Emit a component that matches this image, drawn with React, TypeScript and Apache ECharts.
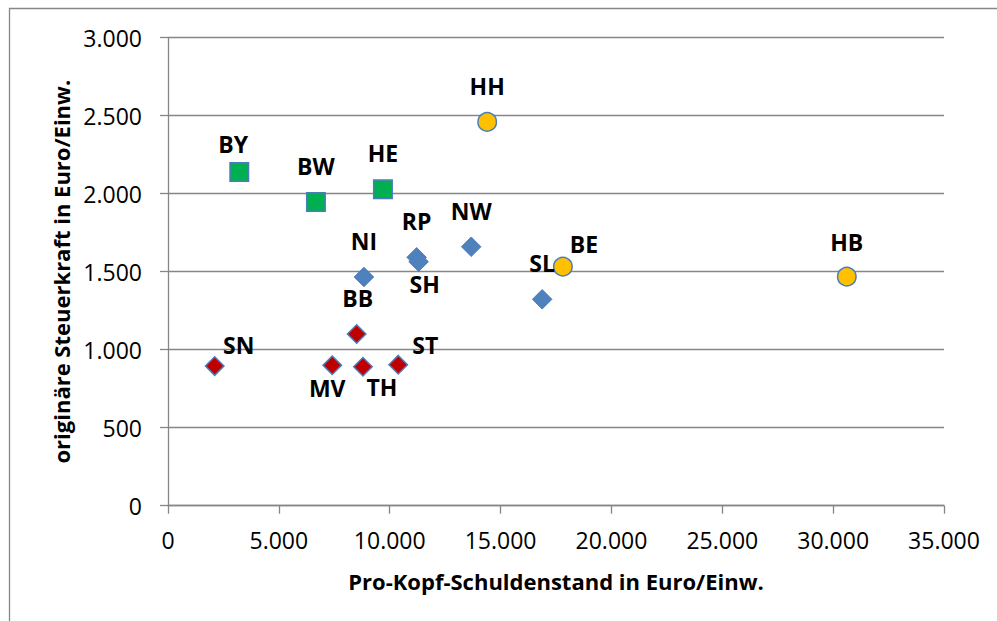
import React, { useEffect, useRef } from "react";
import * as echarts from "echarts";

// Data (Pro-Kopf-Schuldenstand [x], originäre Steuerkraft [y], Euro/Einw.)
const greenNames = ["BY", "BW", "HE"];
const greenX = [3215, 6673, 9694];
const greenY = [2139, 1947, 2028];

const yellowNames = ["HH", "BE", "HB"];
const yellowX = [14397, 17811, 30616];
const yellowY = [2460, 1532, 1468];

const blueNames = ["NI", "RP", "SH", "NW", "SL"];
const blueX = [8838, 11214, 11304, 13676, 16877];
const blueY = [1466, 1592, 1564, 1660, 1323];

const redNames = ["BB", "SN", "MV", "TH", "ST"];
const redX = [8509, 2106, 7408, 8793, 10384];
const redY = [1101, 895, 900, 891, 904];

const xTicks = { min: 0, max: 35000, interval: 5000 };
const yTicks = { min: 0, max: 3000, interval: 500 };

const xTitle = "Pro-Kopf-Schuldenstand in Euro/Einw.";
const yTitle = "originäre Steuerkraft in Euro/Einw.";

// label placement (style, not data)
const labelOffsets: Record<string, [number, number]> = {
  BY: [-6, -28],
  BW: [0, -36],
  HE: [0, -36],
  HH: [0, -36],
  BE: [21, -23],
  HB: [0, -35],
  NI: [0, -36],
  RP: [0, -36],
  SH: [6, 22],
  NW: [0, -36],
  SL: [0, -36],
  BB: [1, -36],
  SN: [24, -21],
  MV: [-5, 23],
  TH: [19, 20],
  ST: [27, -20],
};

const FONT = "'Open Sans', 'Liberation Sans', sans-serif";
const GRAY = "#868686";
const BORDER = "#4a7ebb";

const fmt = (v: number) =>
  String(Math.round(v)).replace(/\B(?=(\d{3})+(?!\d))/g, ".");

function buildData(names: string[], xs: number[], ys: number[]) {
  return names.map((n, i) => ({
    name: n,
    value: [xs[i], ys[i]],
    label: {
      show: true,
      position: "inside",
      offset: labelOffsets[n] || [0, -36],
      formatter: n,
      color: "#000",
      textBorderWidth: 0,
      fontFamily: FONT,
      fontWeight: "bold",
      fontSize: 23,
    },
  }));
}

export default function App() {
  const ref = useRef<HTMLDivElement>(null);
  useEffect(() => {
    if (!ref.current) return;
    const chart = echarts.init(ref.current, undefined, { renderer: "svg" });
    const symSize = 18.5;
    chart.setOption({
      animation: false,
      backgroundColor: "#ffffff",
      textStyle: { fontFamily: FONT },
      grid: {
        left: 168,
        right: 53,
        top: 37.7,
        bottom: 115.3,
        containLabel: false,
        outerBoundsMode: "none",
      },
      xAxis: {
        type: "value",
        min: xTicks.min,
        max: xTicks.max,
        interval: xTicks.interval,
        name: xTitle,
        nameLocation: "middle",
        nameGap: 64,
        nameTextStyle: {
          fontFamily: FONT,
          fontWeight: "bold",
          fontSize: 22,
          color: "#000",
        },
        axisLine: { show: true, lineStyle: { color: GRAY, width: 1.3 } },
        axisTick: { show: true, length: 8, lineStyle: { color: GRAY, width: 1.3 } },
        axisLabel: {
          formatter: (v: number) => fmt(v),
          fontFamily: FONT,
          fontSize: 23,
          color: "#000",
          margin: 23,
        },
        splitLine: { show: false },
      },
      yAxis: {
        type: "value",
        min: yTicks.min,
        max: yTicks.max,
        interval: yTicks.interval,
        name: yTitle,
        nameLocation: "middle",
        nameGap: 95,
        nameTextStyle: {
          fontFamily: FONT,
          fontWeight: "bold",
          fontSize: 22,
          color: "#000",
        },
        axisLine: { show: true, lineStyle: { color: GRAY, width: 1.3 } },
        axisTick: { show: true, length: 8, lineStyle: { color: GRAY, width: 1.3 } },
        axisLabel: {
          formatter: (v: number) => fmt(v),
          fontFamily: FONT,
          fontSize: 23,
          color: "#000",
          margin: 26,
        },
        splitLine: { show: true, lineStyle: { color: GRAY, width: 1.3 } },
      },
      graphic: [
        {
          type: "rect",
          silent: true,
          shape: { x: 9.5, y: 8.5, width: 1100, height: 800 },
          style: { fill: "none", stroke: GRAY, lineWidth: 1.3 },
          z: 100,
        },
      ],
      series: [
        {
          type: "scatter",
          name: "blau",
          symbol: "diamond",
          symbolSize: symSize + 1,
          itemStyle: { color: "#4f81bd", borderColor: BORDER, borderWidth: 1, opacity: 1 },
          data: buildData(blueNames, blueX, blueY),
        },
        {
          type: "scatter",
          name: "rot",
          symbol: "diamond",
          symbolSize: symSize,
          itemStyle: { color: "#c00000", borderColor: BORDER, borderWidth: 1.5, opacity: 1 },
          data: buildData(redNames, redX, redY),
        },
        {
          type: "scatter",
          name: "grün",
          symbol: "rect",
          symbolSize: symSize,
          itemStyle: { color: "#00b050", borderColor: BORDER, borderWidth: 1.5, opacity: 1 },
          data: buildData(greenNames, greenX, greenY),
        },
        {
          type: "scatter",
          name: "gelb",
          symbol: "circle",
          symbolSize: symSize,
          itemStyle: { color: "#ffc000", borderColor: BORDER, borderWidth: 1.5, opacity: 1 },
          data: buildData(yellowNames, yellowX, yellowY),
        },
      ],
    });
    return () => chart.dispose();
  }, []);
  return (
    <div
      ref={ref}
      style={{
        position: "fixed",
        left: 0,
        top: 0,
        width: 997,
        height: 621,
        background: "#fff",
      }}
    />
  );
}
